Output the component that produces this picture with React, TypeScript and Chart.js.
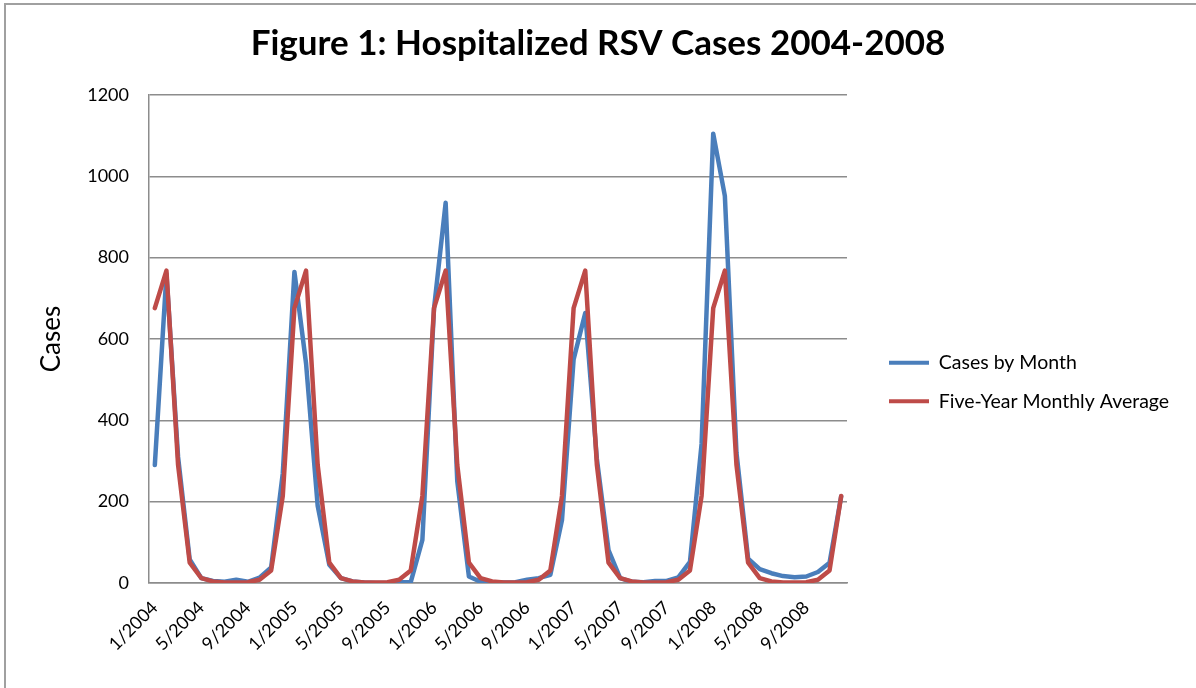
import React, { useEffect, useRef } from "react";
import { Chart, registerables } from "chart.js";

Chart.register(...registerables);

// ---- data ----
const years = [2004, 2005, 2006, 2007, 2008];
const months = [1, 2, 3, 4, 5, 6, 7, 8, 9, 10, 11, 12];

const cases2004 = [290, 760, 310, 58, 12, 5, 3, 8, 3, 13, 38, 270];
const cases2005 = [765, 540, 190, 45, 12, 4, 1, 0, 0, 2, 2, 106];
const cases2006 = [675, 935, 250, 16, 3, 1, 1, 2, 8, 12, 20, 155];
const cases2007 = [550, 664, 305, 81, 12, 3, 2, 5, 5, 14, 52, 342];
const cases2008 = [1105, 952, 320, 60, 34, 24, 17, 14, 16, 27, 50, 213];

const fiveYearMonthlyAverage = [676, 768, 290, 50, 12, 4, 1, 1, 2, 8, 31, 214];

const yTickValues = [0, 200, 400, 600, 800, 1000, 1200];

const TITLE = "Figure 1: Hospitalized RSV Cases 2004-2008";
const SERIES_1 = "Cases by Month";
const SERIES_2 = "Five-Year Monthly Average";

// ---- derived tables for the library ----
const categories: string[] = [];
years.forEach((y) => months.forEach((m) => categories.push(`${m}/${y}`)));
const casesByMonth = [...cases2004, ...cases2005, ...cases2006, ...cases2007, ...cases2008];
const averageSeries: number[] = [];
years.forEach(() => averageSeries.push(...fiveYearMonthlyAverage));

const BLUE = "#4a7ebb";
const RED = "#be4b48";
const GRID = "#8c8c8c";
const FONT = "Lato, 'Open Sans', sans-serif";
const LEGEND_WIDTH = 349;

const frame = {
  id: "frame",
  beforeDraw(chart: any) {
    const ctx = chart.ctx;
    ctx.save();
    ctx.fillStyle = "#ffffff";
    ctx.fillRect(0, 0, chart.width, chart.height);
    ctx.strokeStyle = "#a0a0a0";
    ctx.lineWidth = 2;
    ctx.strokeRect(5, 4, chart.width + 20, chart.height + 20);
    ctx.restore();
  },
};

const legendPlace = {
  id: "legendPlace",
  beforeLayout(chart: any) {
    const lg = chart.legend;
    if (lg && !lg.__fixedWidth) {
      const fit = lg.fit;
      lg.fit = function (this: any) {
        fit.call(this);
        this.width = LEGEND_WIDTH;
      };
      lg.__fixedWidth = true;
    }
  },
  afterLayout(chart: any) {
    const lg = chart.legend;
    if (!lg) return;
    lg.left = chart.chartArea.right + 23;
    lg.right = lg.left + lg.width;
    lg.top = 334;
    lg.bottom = chart.height;
  },
};

export default function App() {
  const ref = useRef<HTMLCanvasElement>(null);

  useEffect(() => {
    document.body.style.margin = "0";
    const chart = new Chart(ref.current as HTMLCanvasElement, {
      type: "line",
      data: {
        labels: categories,
        datasets: [
          {
            label: SERIES_1,
            data: casesByMonth,
            borderColor: BLUE,
            backgroundColor: BLUE,
            borderWidth: 4.5,
            borderJoinStyle: "round",
            borderCapStyle: "round",
            pointRadius: 0,
            tension: 0,
            fill: false,
            order: 2,
          },
          {
            label: SERIES_2,
            data: averageSeries,
            borderColor: RED,
            backgroundColor: RED,
            borderWidth: 4.5,
            borderJoinStyle: "round",
            borderCapStyle: "round",
            pointRadius: 0,
            tension: 0,
            fill: false,
            order: 1,
          },
        ],
      },
      options: {
        responsive: false,
        animation: false,
        events: [],
        layout: { padding: 0 },
        plugins: {
          title: {
            display: true,
            text: TITLE,
            color: "#000",
            font: { family: FONT, size: 35, weight: "bold" },
            padding: { top: 23, bottom: 30 },
          },
          legend: {
            position: "right",
            align: "start",
            reverse: true,
            labels: {
              color: "#000",
              font: { family: FONT, size: 19.5 },
              boxWidth: 40,
              boxHeight: 4,
              padding: 19,
              generateLabels: (c: any) =>
                (Chart.defaults.plugins.legend.labels.generateLabels as any)(c).map((l: any) => ({
                  ...l,
                  lineWidth: 0,
                })),
            },
          },
          tooltip: { enabled: false },
        },
        scales: {
          x: {
            offset: true,
            grid: { display: false, drawTicks: false },
            border: { display: true, color: GRID, width: 1.5 },
            ticks: {
              autoSkip: false,
              minRotation: 45,
              maxRotation: 45,
              padding: 14,
              color: "#000",
              font: { family: FONT, size: 18 },
              callback: (_v: any, i: number) => (i % 4 === 0 ? categories[i] : ""),
            },
            afterFit: (s: any) => {
              s.height = 105;
            },
          },
          y: {
            min: yTickValues[0],
            max: yTickValues[yTickValues.length - 1],
            grid: { color: GRID, lineWidth: 1.5, drawTicks: false },
            border: { display: true, color: GRID, width: 1.5 },
            ticks: {
              stepSize: 200,
              padding: 20,
              color: "#000",
              font: { family: FONT, size: 18 },
              callback: (v: any) => String(v),
            },
            title: {
              display: true,
              text: "Cases",
              color: "#000",
              font: { family: FONT, size: 26 },
              padding: { top: 36, bottom: 0 },
            },
            afterFit: (s: any) => {
              s.width = 149;
            },
          },
        },
      },
      plugins: [frame, legendPlace],
    } as any);
    return () => chart.destroy();
  }, []);

  return (
    <div style={{ position: "absolute", left: 0, top: 0, width: 1196, height: 688 }}>
      <canvas ref={ref} width={1196} height={688} style={{ display: "block" }} />
    </div>
  );
}
